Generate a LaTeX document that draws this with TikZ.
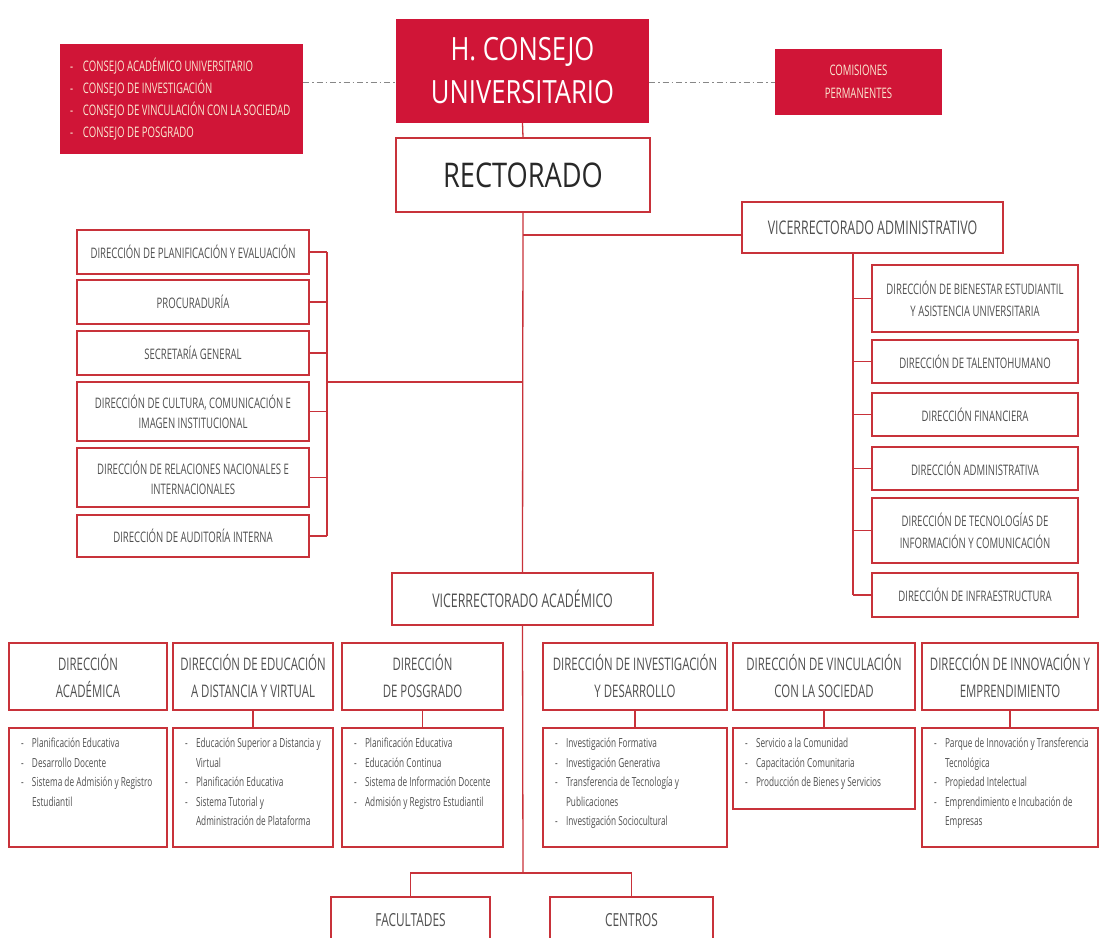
\documentclass[tikz,border=0pt]{standalone}
\usepackage{fontspec}
\setmainfont{Open Sans}[FakeStretch=0.66]
\newfontfamily\titlefont{Open Sans}[FakeStretch=0.8]
\definecolor{cred}{RGB}{208,21,55}
\definecolor{bred}{RGB}{200,50,58}
\definecolor{tgray}{RGB}{80,80,80}
\definecolor{tdark}{RGB}{40,40,40}
\definecolor{cream}{RGB}{250,234,210}
\definecolor{ddgray}{RGB}{135,135,135}
\newcommand{\ritm}[1]{\mbox{\makebox[13pt][l]{-}#1}\par}
\newcommand{\ditm}[1]{\mbox{\makebox[11pt][l]{-}#1}\par}
\newcommand{\dcnt}[1]{\mbox{\hspace*{11pt}#1}\par}
\newcommand{\dlst}[3]{\parbox[c][#2pt][t]{#1pt}{\fontsize{12.5}{19.5}\selectfont\vspace*{10pt}#3}}
\tikzset{
  redbox/.style={fill=cred, draw=none, inner sep=0pt},
  wbox/.style={draw=bred, line width=1.3pt, fill=white, inner sep=0pt, align=center, text=tgray},
  sz/.style 2 args={minimum width=#1pt, minimum height=#2pt},
  conn/.style={draw=bred, line width=1.3pt},
  dd/.style={draw=ddgray, line width=1pt, dash pattern=on 6pt off 3pt on 1.5pt off 3pt},
  smallt/.style={font=\fontsize{14.5}{20}\selectfont},
  smallw/.style={font=\fontsize{14.5}{22}\selectfont},
  midt/.style={font=\fontsize{18.8}{22}\selectfont},
  headt/.style={font=\fontsize{17.3}{27}\selectfont},
  detail/.style={wbox, inner xsep=12pt, inner ysep=0pt, align=left},
}
\begin{document}
\begin{tikzpicture}[x=1pt,y=-1pt]
\fill[white] (0,0) rectangle (1099,937);
\useasboundingbox (0,0) rectangle (1099,937);

% top row
\node[redbox, sz={243}{110}, text=cream, inner xsep=10pt] (redL) at (181.5,99)
  {\parbox{223pt}{\fontsize{14.5}{22}\selectfont
   \ritm{CONSEJO ACADÉMICO UNIVERSITARIO}
   \ritm{CONSEJO DE INVESTIGACIÓN}
   \ritm{CONSEJO DE VINCULACIÓN CON LA SOCIEDAD}
   \ritm{CONSEJO DE POSGRADO}}};
\node[redbox, sz={253}{104}, text=white, align=center, font=\titlefont\fontsize{32}{43}\selectfont] (hcu) at (522.5,71) {H. CONSEJO\\UNIVERSITARIO};
\node[redbox, sz={167}{66}, text=cream, align=center, font=\fontsize{14.5}{23}\selectfont] (comis) at (858.5,82) {COMISIONES\\PERMANENTES};
\node[wbox, sz={254}{74}, text=tdark, font=\titlefont\fontsize{34}{40}\selectfont] (rect) at (523,175) {RECTORADO};

% vicerrectorado administrativo
\node[wbox, midt, sz={261}{51}] (vadmin) at (872.5,227.5) {VICERRECTORADO ADMINISTRATIVO};

% left staff boxes
\node[wbox, smallt, sz={232}{44}] (L1) at (193,252) {DIRECCIÓN DE PLANIFICACIÓN Y EVALUACIÓN};
\node[wbox, smallt, sz={232}{44}] (L2) at (193,302) {PROCURADURÍA};
\node[wbox, smallt, sz={232}{44}] (L3) at (193,353) {SECRETARÍA GENERAL};
\node[wbox, smallt, sz={232}{59}] (L4) at (193,411.5) {DIRECCIÓN DE CULTURA, COMUNICACIÓN E\\IMAGEN INSTITUCIONAL};
\node[wbox, smallt, sz={232}{59}] (L5) at (193,477.5) {DIRECCIÓN DE RELACIONES NACIONALES E\\INTERNACIONALES};
\node[wbox, smallt, sz={232}{42}] (L6) at (193,536) {DIRECCIÓN DE AUDITORÍA INTERNA};

% right admin boxes
\node[wbox, smallw, sz={206}{67}] (R1) at (975,298.5) {DIRECCIÓN DE BIENESTAR ESTUDIANTIL\\Y ASISTENCIA UNIVERSITARIA};
\node[wbox, smallt, sz={206}{43}] (R2) at (975,361.5) {DIRECCIÓN DE TALENTOHUMANO};
\node[wbox, smallt, sz={206}{43}] (R3) at (975,414.5) {DIRECCIÓN FINANCIERA};
\node[wbox, smallt, sz={206}{43}] (R4) at (975,468.5) {DIRECCIÓN ADMINISTRATIVA};
\node[wbox, smallw, sz={206}{65}] (R5) at (975,530.5) {DIRECCIÓN DE TECNOLOGÍAS DE\\INFORMACIÓN Y COMUNICACIÓN};
\node[wbox, smallt, sz={206}{44}] (R6) at (975,595) {DIRECCIÓN DE INFRAESTRUCTURA};

% vicerrectorado academico
\node[wbox, midt, sz={261}{52}] (vacad) at (522.5,599) {VICERRECTORADO ACADÉMICO};

% direcciones
\node[wbox, headt, sz={158}{67}] (D1) at (88,676.5) {DIRECCIÓN\\ACADÉMICA};
\node[wbox, headt, sz={160}{67}] (D2) at (253,676.5) {DIRECCIÓN DE EDUCACIÓN\\A DISTANCIA Y VIRTUAL};
\node[wbox, headt, sz={161}{67}] (D3) at (422.5,676.5) {DIRECCIÓN\\DE POSGRADO};
\node[wbox, headt, sz={184}{67}] (D4) at (635,676.5) {DIRECCIÓN DE INVESTIGACIÓN\\Y DESARROLLO};
\node[wbox, headt, sz={182}{67}] (D5) at (824,676.5) {DIRECCIÓN DE VINCULACIÓN\\CON LA SOCIEDAD};
\node[wbox, headt, sz={176}{67}] (D6) at (1010,676.5) {DIRECCIÓN DE INNOVACIÓN Y\\EMPRENDIMIENTO};

% detail boxes
\node[detail, sz={158}{119}] (E1) at (88,787.5) {\dlst{134}{119}{%
  \ditm{Planificación Educativa}
  \ditm{Desarrollo Docente}
  \ditm{Sistema de Admisión y Registro}
  \dcnt{Estudiantil}}};
\node[detail, sz={160}{119}] (E2) at (253,787.5) {\dlst{136}{119}{%
  \ditm{Educación Superior a Distancia y}
  \dcnt{Virtual}
  \ditm{Planificación Educativa}
  \ditm{Sistema Tutorial y}
  \dcnt{Administración de Plataforma}}};
\node[detail, sz={161}{119}] (E3) at (422.5,787.5) {\dlst{137}{119}{%
  \ditm{Planificación Educativa}
  \ditm{Educación Continua}
  \ditm{Sistema de Información Docente}
  \ditm{Admisión y Registro Estudiantil}}};
\node[detail, sz={184}{119}] (E4) at (635,787.5) {\dlst{160}{119}{%
  \ditm{Investigación Formativa}
  \ditm{Investigación Generativa}
  \ditm{Transferencia de Tecnología y}
  \dcnt{Publicaciones}
  \ditm{Investigación Sociocultural}}};
\node[detail, sz={182}{81}] (E5) at (824,768.5) {\dlst{158}{81}{%
  \ditm{Servicio a la Comunidad}
  \ditm{Capacitación Comunitaria}
  \ditm{Producción de Bienes y Servicios}}};
\node[detail, sz={176}{119}] (E6) at (1010,787.5) {\dlst{152}{119}{%
  \ditm{Parque de Innovación y Transferencia}
  \dcnt{Tecnológica}
  \ditm{Propiedad Intelectual}
  \ditm{Emprendimiento e Incubación de}
  \dcnt{Empresas}}};

% bottom
\node[wbox, font=\fontsize{18}{20}\selectfont, sz={159}{46}] (fac) at (410.5,920) {FACULTADES};
\node[wbox, font=\fontsize{18}{20}\selectfont, sz={163}{46}] (cen) at (631.5,920) {CENTROS};

% helper coordinates
\coordinate (lbar) at (327,382);
\coordinate (rbar) at (853,253);
\coordinate (va) at ([yshift=-7.5pt]vadmin.west);
\coordinate (bj) at (523,873);

% dash-dot links
\draw[dd] (redL.east |- comis.west) -- (hcu.west |- comis.west);
\draw[dd] (hcu.east |- comis.west) -- (comis.west);

% main connectors
\draw[conn] (hcu.south) -- (rect.north);
\draw[conn] (rect.south) -- (vacad.north);
\draw[conn] (va) -- (rect.south |- va);

% left bracket
\draw[conn] (L1.east -| lbar) -- (L6.east -| lbar);
\foreach \n in {L1,L2,L3,L4,L5,L6} { \draw[conn] (\n.east) -- (\n.east -| lbar); }
\draw[conn] (lbar) -- (lbar -| rect.south);

% right spine
\draw[conn] (rbar) -- (R6.west -| rbar);
\foreach \n in {R1,R2,R3,R4,R5,R6} { \draw[conn] (\n.west -| rbar) -- (\n.west); }

% direcciones to details
\draw[conn] (D2.south) -- (E2.north);
\draw[conn] (D3.south) -- (E3.north);
\draw[conn] (D4.south) -- (E4.north);
\draw[conn] (D5.south) -- (E5.north);
\draw[conn] (D6.south) -- (E6.north);

% bottom split
\draw[conn] (vacad.south) -- (bj);
\draw[conn] (fac.north) -- (fac.north |- bj) -- (cen.north |- bj) -- (cen.north);
\end{tikzpicture}
\end{document}
